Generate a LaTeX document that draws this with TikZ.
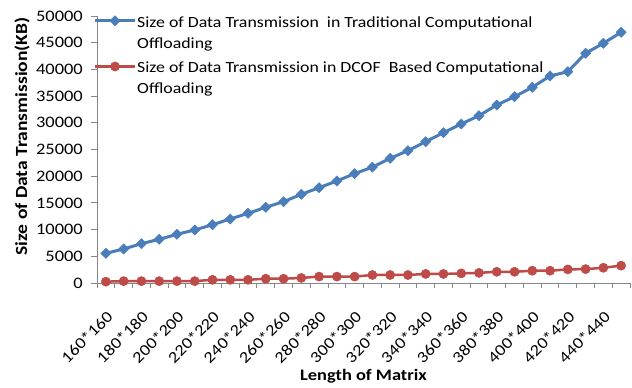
\documentclass[tikz,border=0pt]{standalone}
\usepackage{fontspec}
\setmainfont{Carlito}[FakeStretch=1.15]
\usetikzlibrary{plotmarks}
\definecolor{serA}{HTML}{4A7EBB}
\definecolor{serB}{HTML}{BE4B48}
\definecolor{axisgray}{HTML}{868686}
\begin{document}
\begin{tikzpicture}[x=1pt,y=-1pt,
  axisline/.style={draw=axisgray, line width=0.9pt},
  ticklab/.style={font=\fontsize{16}{19}\selectfont, inner sep=0pt},
  legtext/.style={font=\fontsize{15.5}{21}\selectfont, align=left, inner sep=0pt, anchor=base west},
  axtitle/.style={font=\bfseries\fontsize{16}{19}\selectfont, inner sep=0pt},
  lineA/.style={draw=serA, line width=3pt, line join=round},
  lineB/.style={draw=serB, line width=2.5pt, line join=round},
  markA/.style={mark=square*, mark size=3.6pt, mark options={fill=serA, draw=serA, rotate=45, line width=0.5pt}},
  markB/.style={mark=*, mark size=4.6pt, mark options={fill=serB, draw=serB, line width=0.5pt}}]
\fill[white] (0,0) rectangle (632,388);
\useasboundingbox (0,0) rectangle (632,388);
\begin{scope}[shift={(97,283)}, x=17.7667pt, y=5.34pt]
  % axes
  \draw[axisline] (0,50) -- (0,0) -- (30,0);
  \foreach \v in {0,5,...,50} {
    \draw[axisline] (0,\v) -- ++(-6pt,0pt);
    \node[ticklab, anchor=east] (yl\v) at ([xshift=-14pt]0,\v) {\ifnum\v=0 0\else\v000\fi};
  }
  \foreach \i in {0,...,30} {
    \draw[axisline] (\i,0) -- ++(0pt,-5pt);
  }
  \foreach \i in {0,2,...,28} {
    \pgfmathtruncatemacro\nn{160+10*\i}
    \node[ticklab, rotate=45, anchor=east] (xl\i) at ([xshift=4pt,yshift=-31pt]\i+0.5,0) {\nn*\nn};
  }
  % series
  \draw[lineA, markA] plot coordinates {(0.5,5.56) (1.5,6.37) (2.5,7.36) (3.5,8.18) (4.5,9.12) (5.5,9.93) (6.5,10.92) (7.5,11.99) (8.5,13.05) (9.5,14.18) (10.5,15.23) (11.5,16.61) (12.5,17.85) (13.5,19.10) (14.5,20.48) (15.5,21.70) (16.5,23.35) (17.5,24.78) (18.5,26.46) (19.5,28.15) (20.5,29.78) (21.5,31.33) (22.5,33.33) (23.5,34.89) (24.5,36.65) (25.5,38.77) (26.5,39.57) (27.5,43.02) (28.5,44.89) (29.5,46.95)};
  \draw[lineB, markB] plot coordinates {(0.5,0.25) (1.5,0.35) (2.5,0.35) (3.5,0.35) (4.5,0.35) (5.5,0.35) (6.5,0.6) (7.5,0.6) (8.5,0.6) (9.5,0.8) (10.5,0.8) (11.5,0.95) (12.5,1.2) (13.5,1.2) (14.5,1.2) (15.5,1.5) (16.5,1.5) (17.5,1.5) (18.5,1.7) (19.5,1.7) (20.5,1.8) (21.5,1.9) (22.5,2.1) (23.5,2.1) (24.5,2.3) (25.5,2.3) (26.5,2.55) (27.5,2.6) (28.5,2.85) (29.5,3.25)};
\end{scope}
% legend
\coordinate (la1) at (95,20.7);
\coordinate (la2) at (135,20.7);
\coordinate (lb1) at (95,66.5);
\coordinate (lb2) at (135,66.5);
\draw[lineA] (la1) -- (la2);
\path[markA] plot coordinates {(115,20.7)};
\draw[lineB] (lb1) -- (lb2);
\path[markB] plot coordinates {(115,66.5)};
\node[legtext] (leg1) at (137,48.5) {Size of Data Transmission~ in Traditional Computational\\Offloading};
\node[legtext] (leg2) at (137,93) {Size of Data Transmission in DCOF~ Based Computational\\Offloading};
% titles
\node[axtitle, font=\bfseries\fontsize{17}{20}\selectfont, rotate=90] (ytitle) at (22,136.5) {Size of Data Transmission(KB)};
\node[axtitle] (xtitle) at (363.5,376) {Length of Matrix};
\end{tikzpicture}
\end{document}
